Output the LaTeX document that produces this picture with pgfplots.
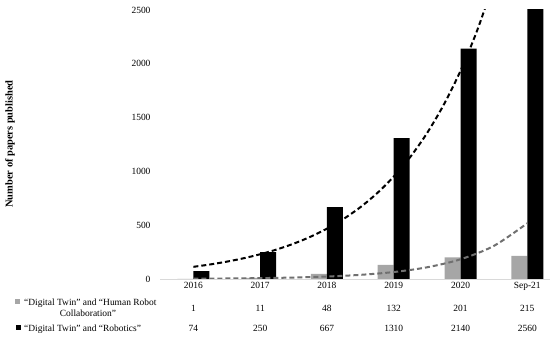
\documentclass[border=0pt]{standalone}
\usepackage{fontspec}
\setmainfont{Liberation Serif}
\usepackage{pgfplots}
\pgfplotsset{compat=1.18}
\definecolor{barGray}{RGB}{166,166,166}
\definecolor{lineGray}{RGB}{112,112,112}
\definecolor{axGray}{RGB}{217,217,217}
\newcommand{\fs}{\fontsize{9.5}{11}\selectfont}
\begin{document}
\begin{tikzpicture}
\path[use as bounding box] (0,0) rectangle (550bp,337bp);
\begin{axis}[
  at={(160bp,58bp)}, anchor=south west,
  scale only axis, width=390bp, height=269bp,
  xmin=0.5, xmax=6.34, ymin=0, ymax=2500,
  axis x line*=bottom, axis y line*=left,
  y axis line style={draw=none},
  x axis line style={draw=axGray, line width=0.8bp},
  xtick={1,...,6}, xticklabels={2016,2017,2018,2019,2020,Sep-21},
  ytick={0,500,...,2500},
  major tick length=0pt,
  /pgf/number format/assume math mode=true,
  /pgf/number format/1000 sep={},
  ticklabel style={font=\fs},
  yticklabel style={xshift=-6bp},
  clip mode=individual,
]
\addplot[ybar, bar width=16bp, bar shift=-8bp, fill=barGray, draw=none]
  coordinates {(1,1) (2,11) (3,48) (4,132) (5,201) (6,215)};
\addplot[ybar, bar width=16bp, bar shift=8bp, fill=black, draw=none]
  coordinates {(1,74) (2,250) (3,667) (4,1310) (5,2140) (6,2560)};
% trend lines
\addplot[black, line width=2bp, dash pattern=on 5bp off 3bp, smooth, mark=none]
  coordinates {(1,113.1) (1.25,135.1) (1.5,161.3) (1.75,192.6) (2,230.0) (2.25,274.7)
    (2.5,328.0) (2.75,391.8) (3,467.9) (3.25,558.8) (3.5,667.2) (3.75,796.8)
    (4,951.7) (4.25,1136) (4.5,1357) (4.75,1621) (5,1935) (5.25,2311) (5.5,2760)};
\addplot[lineGray, line width=2bp, dash pattern=on 5bp off 3bp, smooth, mark=none]
  coordinates {(1,2.86) (1.5,4.81) (2,8.08) (2.5,13.6) (3,22.9) (3.5,38.5)
    (4,64.7) (4.5,108.9) (5,183.1) (5.5,308.0) (6,518.0)};
% data table
\node[font=\fs, yshift=-29bp] at (axis cs:1,0) {1};
\node[font=\fs, yshift=-29bp] at (axis cs:2,0) {11};
\node[font=\fs, yshift=-29bp] at (axis cs:3,0) {48};
\node[font=\fs, yshift=-29bp] at (axis cs:4,0) {132};
\node[font=\fs, yshift=-29bp] at (axis cs:5,0) {201};
\node[font=\fs, yshift=-29bp] at (axis cs:6,0) {215};
\node[font=\fs, yshift=-49bp] at (axis cs:1,0) {74};
\node[font=\fs, yshift=-49bp] at (axis cs:2,0) {250};
\node[font=\fs, yshift=-49bp] at (axis cs:3,0) {667};
\node[font=\fs, yshift=-49bp] at (axis cs:4,0) {1310};
\node[font=\fs, yshift=-49bp] at (axis cs:5,0) {2140};
\node[font=\fs, yshift=-49bp] at (axis cs:6,0) {2560};
\end{axis}
\node[font=\fontsize{10.5}{12}\selectfont\bfseries, rotate=90, anchor=center, inner sep=0pt] at (10bp,193bp) {Number of papers published};
\fill[barGray] (15bp,32.5bp) rectangle (20bp,37.5bp);
\node[font=\fs, anchor=base west, inner sep=0pt] at (24bp,32bp) {“Digital Twin” and “Human Robot};
\node[font=\fs, anchor=base, inner sep=0pt] at (88bp,21bp) {Collaboration”};
\fill[black] (16bp,6.5bp) rectangle (21bp,11.5bp);
\node[font=\fs, anchor=base west, inner sep=0pt] at (24bp,6bp) {“Digital Twin” and “Robotics”};
\end{tikzpicture}
\end{document}
